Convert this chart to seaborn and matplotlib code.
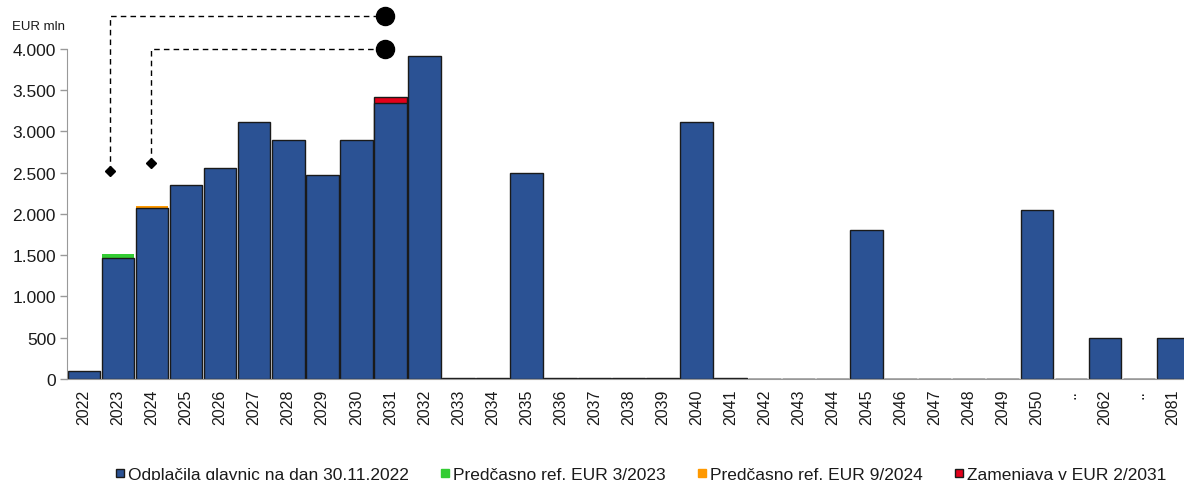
import numpy as np
import pandas as pd
import matplotlib
matplotlib.use("Agg")
import matplotlib.pyplot as plt
from matplotlib.lines import Line2D
import seaborn as sns

years = ["2022", "2023", "2024", "2025", "2026", "2027", "2028", "2029", "2030", "2031",
         "2032", "2033", "2034", "2035", "2036", "2037", "2038", "2039", "2040", "2041",
         "2042", "2043", "2044", "2045", "2046", "2047", "2048", "2049", "2050",
         "..", "2062", "...", "2081"]
principal = [100, 1465, 2070, 2350, 2555, 3120, 2895, 2475, 2895, 3345,
             3915, 15, 15, 2500, 15, 15, 15, 15, 3110, 15,
             0, 0, 0, 1800, 0, 0, 0, 0, 2045,
             0, 500, 0, 500]
early_2023 = {"2023": 50}
early_2024 = {"2024": 25}
swap_2031 = {"2031": 70}

series_names = ["Odplačila glavnic na dan 30.11.2022", "Predčasno ref. EUR 3/2023",
                "Predčasno ref. EUR 9/2024", "Zamenjava v EUR 2/2031"]
colors = ["#2B5294", "#33CC33", "#FF9900", "#E3001B"]
edge = "#1a1a1a"


def main():
    sns.set_style("white")
    plt.rcParams["font.family"] = ["Liberation Sans", "DejaVu Sans"]

    fig = plt.figure(figsize=(11.84, 4.81), dpi=100)
    ax = fig.add_axes([67 / 1184, 101 / 481, 33 * 34.03 / 1184, 380 / 481])

    df = pd.DataFrame({"year": years, "principal": principal})

    # extra segments drawn as full-height bars first, principal painted over them
    for extra, col in zip([early_2023, early_2024, swap_2031], colors[1:]):
        tot = [p + extra.get(y, 0) if y in extra else 0 for y, p in zip(years, principal)]
        has_edge = col == colors[3]
        sns.barplot(x=years, y=tot, order=years, color=col, saturation=1, width=0.96,
                    edgecolor=edge if has_edge else col, linewidth=1 if has_edge else 0, ax=ax)
    sns.barplot(data=df, x="year", y="principal", order=years, color=colors[0],
                saturation=1, width=0.96, edgecolor=edge, linewidth=1, ax=ax)

    ax.set_xlim(-0.5, len(years) - 0.5)
    ax.set_ylim(0, 4606)
    ax.set_yticks(np.arange(0, 4001, 500))
    ax.set_yticklabels([f"{v:,.0f}".replace(",", ".") for v in np.arange(0, 4001, 500)],
                       fontsize=12.5, color="#1a1a1a")
    ax.set_xticks(range(len(years)))
    ax.set_xticklabels([y if not y.startswith("..") else ".." for y in years],
                       rotation=90, fontsize=11.5, color="#1a1a1a")
    ax.set_xticks(np.arange(-0.5, len(years)), minor=True)
    ax.tick_params(axis="x", which="major", length=0, pad=7)
    ax.tick_params(axis="x", which="minor", length=5, color="#999999", width=1)
    ax.tick_params(axis="y", length=5, color="#999999", width=1, pad=3, left=True)
    ax.set_xlabel("")
    ax.set_ylabel("")

    for s in ["top", "right"]:
        ax.spines[s].set_visible(False)
    ax.spines["left"].set_bounds(0, 4000)
    ax.spines["left"].set_color("#999999")
    ax.spines["bottom"].set_color("#999999")

    # dashed callout lines
    ax.plot([0.76, 0.76, 8.84], [2525, 4396, 4396], color="black", lw=1,
            linestyle=(0, (4, 3)), clip_on=False)
    ax.plot([1.96, 1.96, 8.84], [2618, 3996, 3996], color="black", lw=1,
            linestyle=(0, (4, 3)), clip_on=False)
    ax.plot([0.76, 1.96], [2525, 2618], "D", color="black", ms=5, linestyle="none", clip_on=False)
    ax.plot([8.84, 8.84], [4396, 3996], "o", color="black", ms=13, linestyle="none", clip_on=False)

    fig.text(12 / 1184, 1 - 27 / 481, "EUR mln", fontsize=9.5, va="center", color="#1a1a1a")

    handles = [Line2D([], [], marker="s", linestyle="none", markersize=6,
                      markerfacecolor=c, markeredgecolor=(edge if c in (colors[0], colors[3]) else c),
                      markeredgewidth=1) for c in colors]
    fig.legend(handles, series_names, loc="center", bbox_to_anchor=(0.541, 1 - 475 / 481),
               ncol=4, frameon=False, fontsize=12.5, handletextpad=0.2, columnspacing=1.75,
               handlelength=0.6, labelcolor="#1a1a1a")

    fig.savefig("out.png", dpi=100)


if __name__ == "__main__":
    main()
